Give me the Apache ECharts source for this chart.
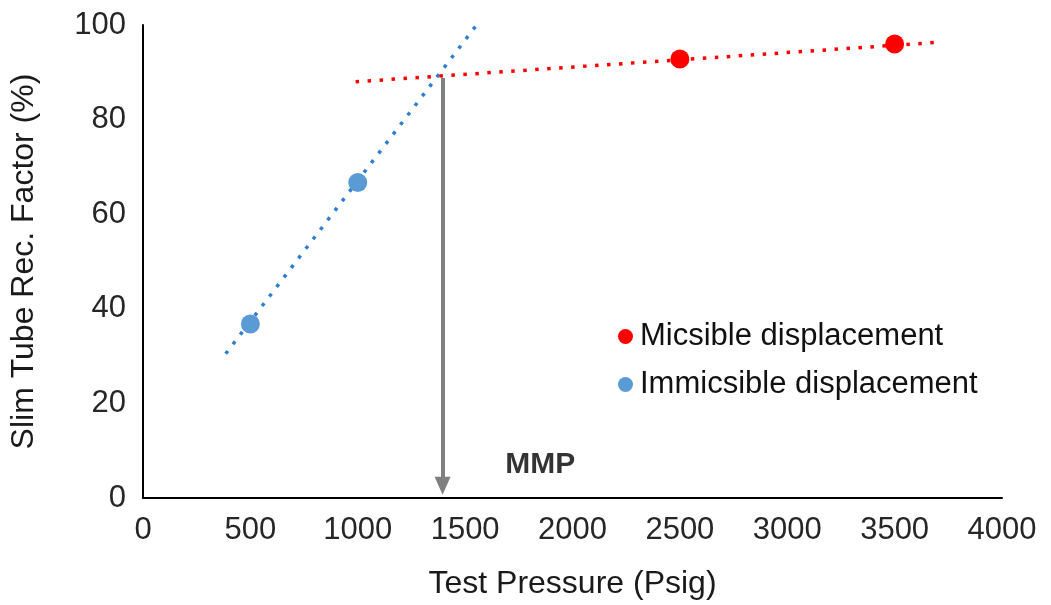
<!DOCTYPE html>
<html>
<head>
<meta charset="utf-8">
<script src="https://cdn.jsdelivr.net/npm/echarts@6/dist/echarts.min.js"></script>
<style>
  html, body { margin: 0; padding: 0; background: #fff; }
  #chart { width: 1051px; height: 605px; }
</style>
</head>
<body>
<div id="chart"></div>
<script>
// Slim tube test results (pressure in psig, recovery factor in %)
const miscibleData = [[2500, 92.8], [3500, 96.0]];
const immiscibleData = [[500, 36.8], [1000, 66.7]];

// Trend lines drawn through each group of points
const miscibleTrend = [[990, 88.0], [3690, 96.3]];
const immiscibleTrend = [[385, 30.5], [1550, 99.8]];

// Minimum miscibility pressure read at the intersection
const mmpPressure = 1395;
const mmpTop = 88.8;
const mmpLabelPos = [1850, 7];

const xTicks = { min: 0, max: 4000, interval: 500 };
const yTicks = { min: 0, max: 100, interval: 20 };

const FONT = '"Liberation Sans", Arial, sans-serif';
const RED = '#ff0000';
const BLUE = '#5b9bd5';
const BLUE_LINE = '#2e7fd0';

const chart = echarts.init(document.getElementById('chart'));

chart.setOption({
  animation: false,
  backgroundColor: '#ffffff',
  grid: { left: 143, right: 49, top: 25, bottom: 105, containLabel: false },
  legend: {
    orient: 'vertical',
    left: 613,
    top: 316,
    itemGap: 17,
    itemWidth: 15,
    itemHeight: 15,
    icon: 'circle',
    data: ['Micsible displacement', 'Immicsible displacement'],
    textStyle: { fontFamily: FONT, fontSize: 31, color: '#111', padding: [0, 0, 0, 2] }
  },
  xAxis: {
    type: 'value',
    min: xTicks.min, max: xTicks.max, interval: xTicks.interval,
    name: 'Test Pressure (Psig)',
    nameLocation: 'middle',
    nameGap: 70,
    nameTextStyle: { fontFamily: FONT, fontSize: 32, color: '#1a1a1a' },
    axisLine: { show: true, lineStyle: { color: '#000', width: 2 } },
    axisTick: { show: false },
    splitLine: { show: false },
    axisLabel: { fontFamily: FONT, fontSize: 31, color: '#262626', margin: 17, formatter: v => String(v) }
  },
  yAxis: {
    type: 'value',
    min: yTicks.min, max: yTicks.max, interval: yTicks.interval,
    name: 'Slim Tube Rec. Factor (%)',
    nameLocation: 'middle',
    nameGap: 103,
    nameTextStyle: { fontFamily: FONT, fontSize: 32, color: '#1a1a1a', padding: [0, 0, 0, 0] },
    axisLine: { show: true, lineStyle: { color: '#000', width: 2 } },
    axisTick: { show: false },
    splitLine: { show: false },
    axisLabel: { fontFamily: FONT, fontSize: 31, color: '#262626', margin: 17 }
  },
  series: [
    {
      name: 'immiscible trend',
      type: 'line',
      data: immiscibleTrend,
      symbol: 'none',
      silent: true,
      lineStyle: { color: BLUE_LINE, width: 3.5, type: [3.5, 8.5] },
      z: 2
    },
    {
      name: 'miscible trend',
      type: 'line',
      data: miscibleTrend,
      symbol: 'none',
      silent: true,
      lineStyle: { color: RED, width: 3.5, type: [3.5, 8.5] },
      z: 2
    },
    {
      name: 'MMP arrow',
      type: 'line',
      data: [],
      silent: true,
      markLine: {
        silent: true,
        symbol: ['none', 'triangle'],
        symbolSize: [16, 18],
        label: { show: false },
        lineStyle: { color: '#808080', width: 4, type: 'solid' },
        data: [[{ coord: [mmpPressure, mmpTop] }, { coord: [mmpPressure, 2.6] }]]
      },
      z: 3
    },
    {
      name: 'Micsible displacement',
      type: 'scatter',
      data: miscibleData,
      symbol: 'circle',
      symbolSize: 19,
      itemStyle: { color: RED, opacity: 1 },
      z: 5
    },
    {
      name: 'Immicsible displacement',
      type: 'scatter',
      data: immiscibleData,
      symbol: 'circle',
      symbolSize: 19,
      itemStyle: { color: BLUE, opacity: 1 },
      z: 5
    },
    {
      name: 'MMP',
      type: 'scatter',
      data: [mmpLabelPos],
      symbolSize: 0,
      silent: true,
      label: {
        show: true,
        position: 'inside',
        formatter: 'MMP',
        fontFamily: FONT,
        fontSize: 30,
        fontWeight: 'bold',
        color: '#000'
      }
    }
  ]
});
</script>
</body>
</html>
